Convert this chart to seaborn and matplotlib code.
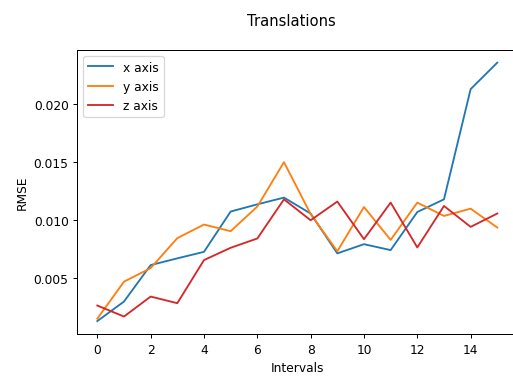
import matplotlib
matplotlib.use("Agg")
import matplotlib.pyplot as plt
import seaborn as sns
import numpy as np

# RMSE of the translation per interval, one series per axis
intervals = list(range(16))
x_axis = [0.00129, 0.00297, 0.00611, 0.00669, 0.00725, 0.01072, 0.01134, 0.01192,
          0.01055, 0.00712, 0.00791, 0.00740, 0.01068, 0.01177, 0.02126, 0.02354]
y_axis = [0.00150, 0.00468, 0.00585, 0.00843, 0.00960, 0.00903, 0.01115, 0.01497,
          0.01050, 0.00730, 0.01111, 0.00828, 0.01149, 0.01034, 0.01097, 0.00934]
z_axis = [0.00263, 0.00168, 0.00340, 0.00283, 0.00654, 0.00760, 0.00840, 0.01177,
          0.00997, 0.01158, 0.00834, 0.01149, 0.00763, 0.01120, 0.00940, 0.01055]

series = [("x axis", x_axis, "#1f77b4"),
          ("y axis", y_axis, "#ff7f0e"),
          ("z axis", z_axis, "#d62728")]

fig = plt.figure(figsize=(513 / 88.7, 377 / 88.7), dpi=88.7)
ax = fig.add_axes([0.1507, 0.1114, 1.0084 - 0.1507, 0.8655 - 0.1114])

for name, values, color in series:
    sns.lineplot(x=intervals, y=values, ax=ax, label=name, color=color, linewidth=1.5)

ax.set_xticks(np.arange(0, 16, 2))
ax.set_xlabel("Intervals")
ax.set_ylabel("RMSE")
ax.legend(loc="upper left")

fig.suptitle("Translations", x=291 / 513, y=1 - 13.8 / 377, va="top")

fig.savefig("out.png", dpi=88.7)
